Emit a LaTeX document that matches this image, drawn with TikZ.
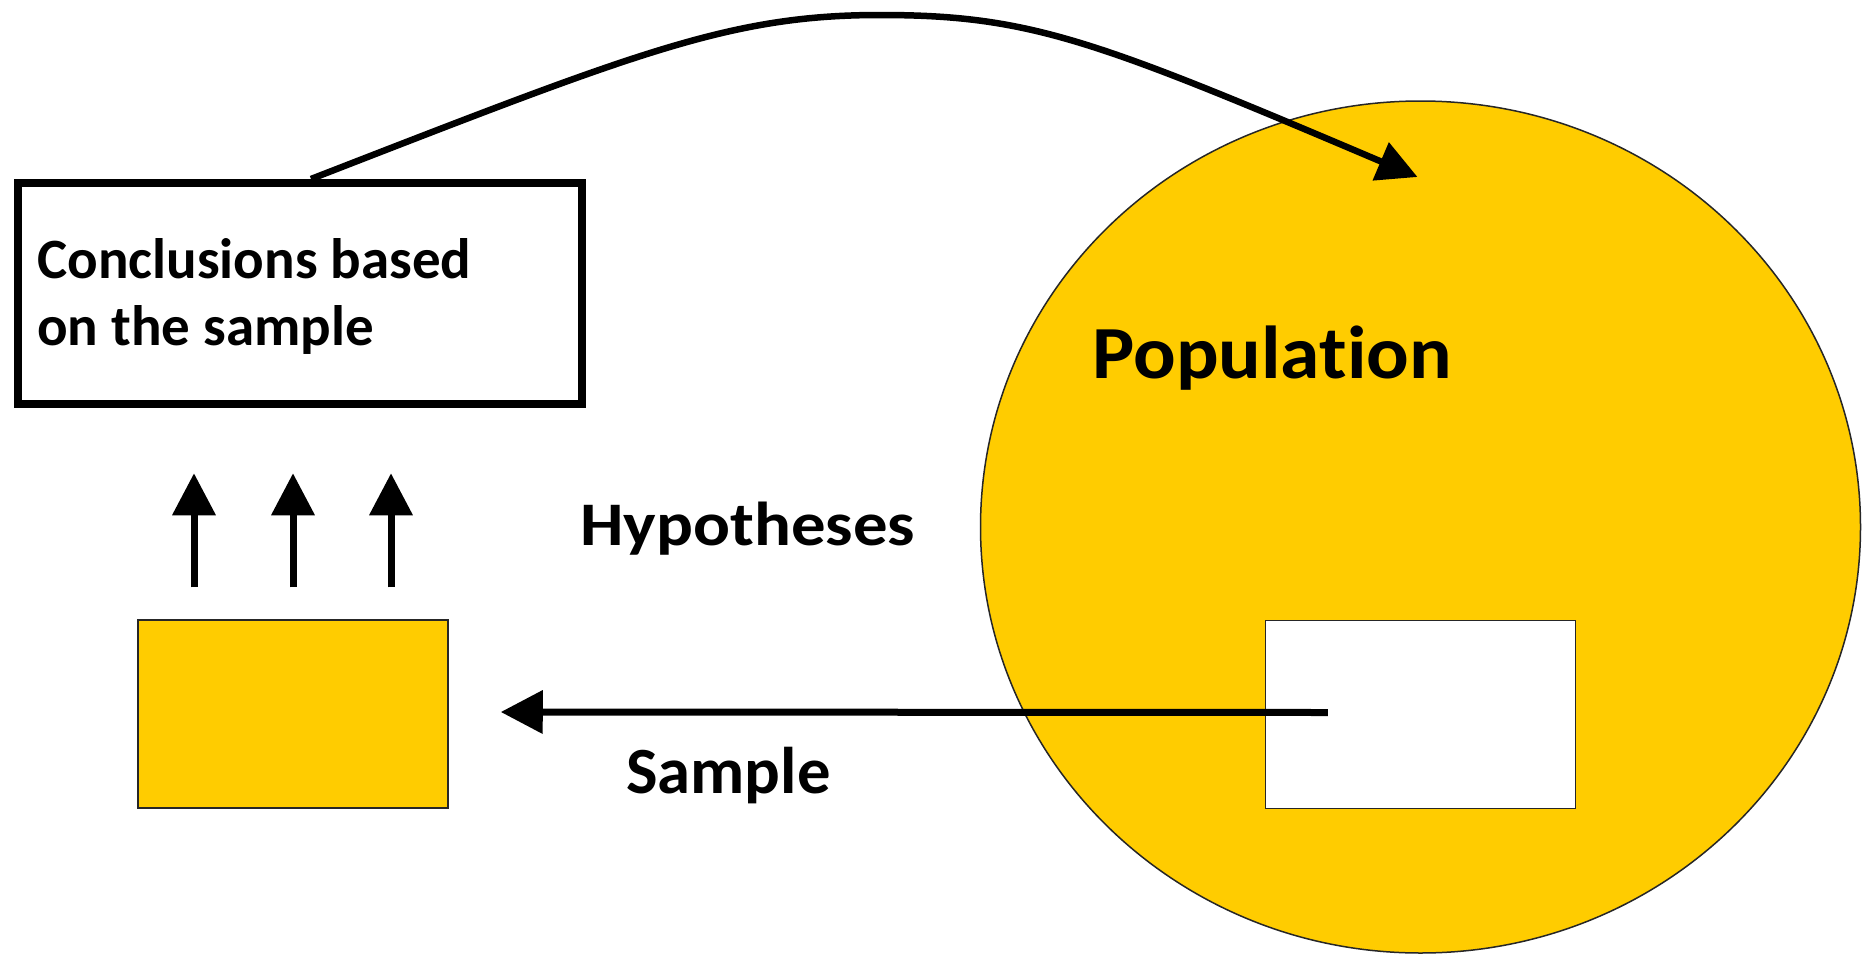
\documentclass[tikz,border=0pt]{standalone}
\usepackage{fontspec}
\usepackage{graphicx}
\setmainfont{Carlito}[Ligatures=CommonOff]
\usetikzlibrary{arrows.meta,shapes.geometric,calc}
\definecolor{popyellow}{RGB}{255,204,0}
\begin{document}
\begin{tikzpicture}[x=1pt,y=-1pt,
  concbox/.style={draw,line width=8pt,rectangle,minimum width=564pt,minimum height=221pt,inner sep=0pt},
  smallbox/.style={draw=black!85,line width=1.5pt,rectangle,minimum width=310pt,minimum height=188pt,inner sep=0pt},
  popnode/.style={draw=black!85,line width=1.5pt,fill=popyellow,ellipse,minimum width=880pt,minimum height=852pt,inner sep=0pt},
  bigarrow/.style={line width=7pt,-{Triangle[length=42pt,width=42pt]}},
  curvearrow/.style={line width=6.5pt,-{Triangle[length=40pt,width=40pt]}},
  lbl/.style={inner sep=0pt,anchor=base west,font=\bfseries}
]
\useasboundingbox[fill=white] (0,0) rectangle (1869,956);

\node[popnode] (pop) at (1420.5,527) {};
\node[smallbox,fill=white] (popsample) at (1420.5,714.5) {};
\node[smallbox,fill=popyellow] (sample) at (293,714) {};
\node[concbox] (concl) at (300,293.5) {};

\node[lbl,align=left,font=\bfseries\fontsize{57}{67}\selectfont] (conctext) at (37,345) {Conclusions based\\on the sample};
\node[lbl,font=\bfseries\fontsize{75}{90}\selectfont] (poptext) at (1092,378) {\scalebox{1.06}[1]{Population}};
\node[lbl,font=\bfseries\fontsize{62}{72}\selectfont] (hyp) at (580,545) {\scalebox{1.11}[1]{Hypotheses}};
\node[lbl,font=\bfseries\fontsize{66}{80}\selectfont] (samptext) at (626,793) {\scalebox{1.01}[1]{Sample}};

\draw[bigarrow] ($(popsample.west)+(63,-2)$) -- ($(sample.east)+(52,-2)$);
\foreach \dx in {-99,0,98}{
  \draw[bigarrow] ($(sample.north)+(\dx,-32)$) -- ($(sample.north)+(\dx,-146)$);
}
\coordinate (peak) at (880,15);
\draw[curvearrow] ($(concl.north)+(11,0)$) .. controls (638,52) and (730,15) .. (peak)
  .. controls (1030,15) and (1095,40) .. ($(pop.center)+(-3,-350)$);
\end{tikzpicture}
\end{document}
